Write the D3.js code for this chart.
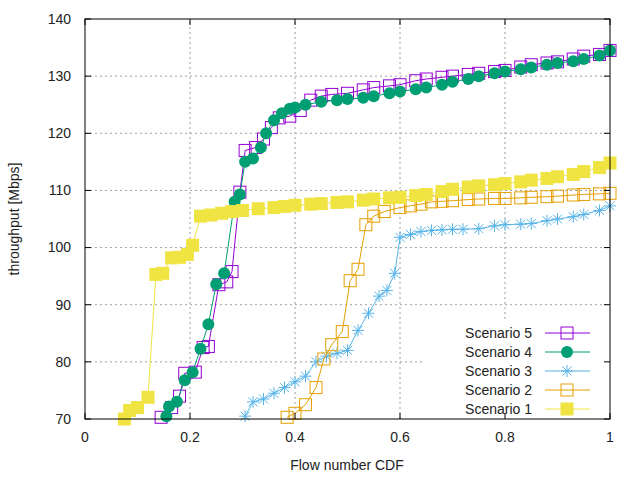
<!DOCTYPE html>
<html>
<head>
<meta charset="UTF-8">
<script src="https://d3js.org/d3.v7.min.js"></script>
<style>
  *{margin:0;padding:0;}
  body{background:#fff;}
  text{font-family:"Liberation Sans",Arial,sans-serif;font-size:14px;fill:#222;}
</style>
</head>
<body>
<script>
const xTicks = [0, 0.2, 0.4, 0.6, 0.8, 1];
const xTickLabels = ["0", "0.2", "0.4", "0.6", "0.8", "1"];
const yTicks = [70, 80, 90, 100, 110, 120, 130, 140];
const seriesNames = ["Scenario 5", "Scenario 4", "Scenario 3", "Scenario 2", "Scenario 1"];

const s5 = [[0.145,70.3],[0.165,72],[0.18,74],[0.19,78],[0.21,78.2],[0.225,82.5],[0.235,82.7],[0.255,93.5],[0.27,94],[0.28,95.8],[0.295,109.7],[0.305,117],[0.325,117.5],[0.34,119],[0.355,121],[0.37,122.7],[0.39,123],[0.41,124],[0.43,125.8],[0.45,126.5],[0.47,126.8],[0.5,127],[0.53,127.6],[0.55,128],[0.58,128.3],[0.6,128.5],[0.63,129.2],[0.65,129.5],[0.68,129.8],[0.7,130],[0.73,130.3],[0.75,130.5],[0.78,130.8],[0.8,131],[0.83,131.6],[0.85,132],[0.88,132.3],[0.9,132.5],[0.93,133],[0.95,133.5],[0.98,133.8],[1,134.5]];
const s4 = [[0.155,70.5],[0.16,72.2],[0.175,73],[0.19,76.8],[0.205,78.2],[0.22,82.3],[0.235,86.6],[0.25,93.6],[0.265,95.5],[0.285,108],[0.295,109.3],[0.305,115],[0.32,115.6],[0.335,117.5],[0.345,120],[0.36,122.3],[0.375,123.5],[0.39,124.3],[0.4,124.5],[0.42,125],[0.45,125.5],[0.48,125.8],[0.5,126],[0.53,126.2],[0.55,126.5],[0.58,127],[0.6,127.3],[0.63,127.7],[0.65,128],[0.68,128.5],[0.7,129],[0.73,129.5],[0.75,130],[0.78,130.5],[0.8,130.8],[0.83,131.2],[0.85,131.5],[0.88,132],[0.9,132.3],[0.93,132.6],[0.95,133],[0.98,133.6],[1,134.5]];
const s3 = [[0.305,70.5],[0.32,73],[0.34,73.5],[0.36,74.5],[0.38,75.5],[0.4,76.5],[0.42,77.5],[0.44,80],[0.46,81],[0.48,81.5],[0.5,82],[0.52,85.5],[0.54,88.5],[0.56,91.5],[0.575,92.5],[0.59,95.5],[0.6,101.8],[0.62,102.3],[0.64,102.8],[0.66,103],[0.68,103.1],[0.7,103.2],[0.72,103.2],[0.75,103.3],[0.78,103.8],[0.8,104],[0.83,104.1],[0.85,104.2],[0.88,104.7],[0.9,105],[0.93,105.4],[0.95,105.8],[0.98,106.5],[1,107.3]];
const s2 = [[0.385,70.3],[0.4,71],[0.42,72.5],[0.44,75.5],[0.455,80.5],[0.47,83],[0.49,85.3],[0.505,94.2],[0.52,96.2],[0.535,104],[0.55,105.5],[0.57,106.3],[0.6,107],[0.62,107.3],[0.64,107.6],[0.66,108],[0.68,108.1],[0.7,108.2],[0.73,108.4],[0.75,108.5],[0.78,108.6],[0.8,108.6],[0.83,108.7],[0.85,108.8],[0.88,108.9],[0.9,109],[0.93,109.2],[0.95,109.3],[0.98,109.4],[1,109.5]];
const s1 = [[0.075,70],[0.085,71.5],[0.1,72],[0.12,73.8],[0.135,95.3],[0.148,95.5],[0.165,98.2],[0.18,98.3],[0.195,98.8],[0.205,100.4],[0.22,105.5],[0.24,105.7],[0.26,106],[0.28,106.3],[0.3,106.5],[0.33,106.8],[0.36,107],[0.38,107.2],[0.4,107.4],[0.43,107.6],[0.45,107.7],[0.48,107.9],[0.5,108],[0.53,108.3],[0.55,108.5],[0.58,108.7],[0.6,108.8],[0.63,109.1],[0.65,109.3],[0.68,109.8],[0.7,110.2],[0.73,110.6],[0.75,110.8],[0.78,111],[0.8,111.2],[0.83,111.5],[0.85,111.8],[0.88,112.1],[0.9,112.4],[0.93,112.8],[0.95,113.3],[0.98,114],[1,114.8]];

const seriesData = [s5, s4, s3, s2, s1];
const colors = ["#9400d3", "#009e73", "#56b4e9", "#e69f00", "#f0e442"];
const markers = ["openSquare", "circle", "star", "openSquare", "square"];

const W = 640, H = 480, L = 85, R = 610, T = 19, B = 419;
const svg = d3.select("body").append("svg").attr("width", W).attr("height", H);
const x = d3.scaleLinear().domain([0, 1]).range([L, R]);
const y = d3.scaleLinear().domain([70, 140]).range([B, T]);

// grid
const grid = svg.append("g").attr("stroke", "#a0a0a0").attr("stroke-dasharray", "2,3").attr("stroke-width", 1);
xTicks.slice(1, -1).forEach(t => grid.append("line").attr("x1", x(t)).attr("x2", x(t)).attr("y1", B).attr("y2", T));
yTicks.slice(1, -1).forEach(t => grid.append("line").attr("x1", L).attr("x2", R).attr("y1", y(t)).attr("y2", y(t)));

// legend box (opaque, hides grid)
svg.append("rect").attr("x", 425).attr("y", 320).attr("width", R - 425).attr("height", B - 320).attr("fill", "#fff");

function marker(g, type, cx, cy, c) {
  if (type === "openSquare") g.append("rect").attr("x", cx - 6).attr("y", cy - 6).attr("width", 12).attr("height", 12).attr("fill", "none").attr("stroke", c);
  else if (type === "square") g.append("rect").attr("x", cx - 6.5).attr("y", cy - 6.5).attr("width", 13).attr("height", 13).attr("fill", c);
  else if (type === "circle") g.append("circle").attr("cx", cx).attr("cy", cy).attr("r", 6).attr("fill", c);
  else {
    g.append("path").attr("stroke", c).attr("fill", "none")
      .attr("d", `M${cx-6},${cy}H${cx+6}M${cx},${cy-6}V${cy+6}M${cx-4.5},${cy-4.5}L${cx+4.5},${cy+4.5}M${cx-4.5},${cy+4.5}L${cx+4.5},${cy-4.5}`);
  }
}

const line = d3.line().x(d => x(d[0])).y(d => y(d[1]));
const plot = svg.append("g");
seriesData.forEach((data, i) => {
  const g = plot.append("g");
  g.append("path").datum(data).attr("d", line).attr("fill", "none").attr("stroke", colors[i]).attr("stroke-width", 1);
  data.forEach(d => marker(g, markers[i], x(d[0]), y(d[1]), colors[i]));
});

// legend
seriesNames.forEach((n, i) => {
  const ly = 333 + i * 19;
  svg.append("text").attr("x", 532).attr("y", ly).attr("dy", "0.35em").attr("text-anchor", "end").text(n);
  svg.append("line").attr("x1", 545).attr("x2", 590).attr("y1", ly).attr("y2", ly).attr("stroke", colors[i]);
  marker(svg.append("g"), markers[i], 567, ly, colors[i]);
});

// frame and ticks
svg.append("rect").attr("x", L).attr("y", T).attr("width", R - L).attr("height", B - T).attr("fill", "none").attr("stroke", "#000");
const ax = svg.append("g").attr("stroke", "#000");
xTicks.forEach(t => {
  ax.append("line").attr("x1", x(t)).attr("x2", x(t)).attr("y1", B).attr("y2", B - 6);
  ax.append("line").attr("x1", x(t)).attr("x2", x(t)).attr("y1", T).attr("y2", T + 6);
});
yTicks.forEach(t => {
  ax.append("line").attr("x1", L).attr("x2", L + 6).attr("y1", y(t)).attr("y2", y(t));
  ax.append("line").attr("x1", R).attr("x2", R - 6).attr("y1", y(t)).attr("y2", y(t));
});
xTicks.forEach((t, i) => svg.append("text").attr("x", x(t)).attr("y", 442).attr("text-anchor", "middle").text(xTickLabels[i]));
yTicks.forEach(t => svg.append("text").attr("x", 71).attr("y", y(t)).attr("dy", "0.35em").attr("text-anchor", "end").text(t));

svg.append("text").attr("x", 347).attr("y", 470).attr("text-anchor", "middle").text("Flow number CDF");
svg.append("text").attr("transform", "translate(19,219) rotate(-90)").attr("text-anchor", "middle").text("throughput [Mbps]");
</script>
</body>
</html>
